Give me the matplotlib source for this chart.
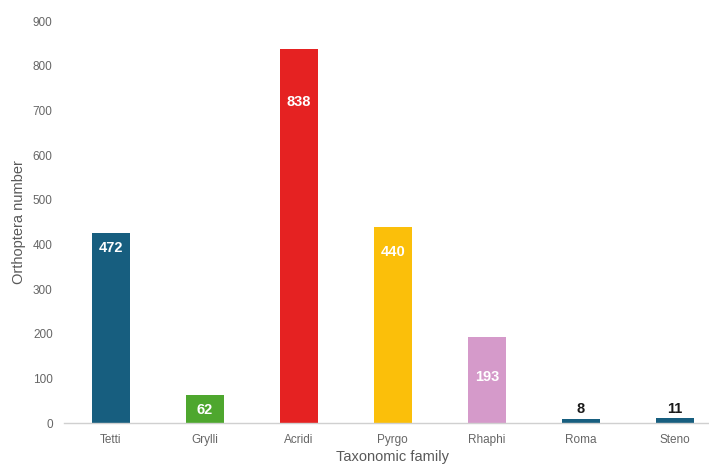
import matplotlib
matplotlib.use('Agg')
import matplotlib.pyplot as plt

# data
families = ['Tetti', 'Grylli', 'Acridi', 'Pyrgo', 'Rhaphi', 'Roma', 'Steno']
bar_heights = [426, 62, 838, 440, 193, 8, 11]
value_labels = ['472', '62', '838', '440', '193', '8', '11']
label_y = [391, 29, 718, 383, 103, 31, 31]
colors = ['#175E7F', '#4EA72E', '#E52222', '#FBBF0A', '#D59ACA', '#175E7F', '#175E7F']
label_colors = ['white', 'white', 'white', 'white', 'white', '#1A1A1A', '#1A1A1A']
y_ticks = [0, 100, 200, 300, 400, 500, 600, 700, 800, 900]

plt.rcParams['font.family'] = ['Liberation Sans', 'DejaVu Sans']

fig = plt.figure(figsize=(7.09, 4.70), dpi=100)
ax = fig.add_axes([0.090, 0.100, 0.928, 0.855])

x = range(len(families))
ax.bar(x, bar_heights, width=0.40, color=colors, zorder=2)

for i, txt in enumerate(value_labels):
    ax.text(i, label_y[i], txt, ha='center', va='center', fontsize=10.5,
            fontweight='bold', color=label_colors[i], zorder=3)

ax.set_xlim(-0.5, 6.5)
ax.set_ylim(0, 900)
ax.set_yticks(y_ticks)
ax.set_xticks(list(x))
ax.set_xticklabels(families)
ax.tick_params(axis='both', length=0, labelsize=8.5, colors='#666666')
ax.tick_params(axis='x', pad=8)
ax.tick_params(axis='y', pad=8)

for side in ['top', 'right', 'left']:
    ax.spines[side].set_visible(False)
ax.spines['bottom'].set_color('#D0D0D0')
ax.spines['bottom'].set_linewidth(1)

ax.set_xlabel('Taxonomic family', fontsize=10.5, color='#595959', labelpad=3)
ax.set_ylabel('Orthoptera number', fontsize=10.5, color='#595959', labelpad=5)

fig.savefig('out.png', dpi=100)
